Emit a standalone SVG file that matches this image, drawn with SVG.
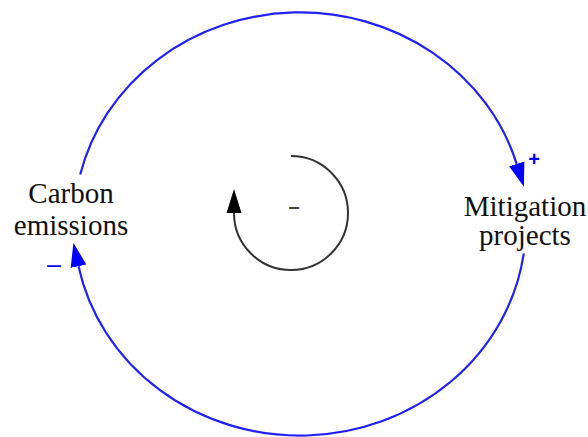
<svg xmlns="http://www.w3.org/2000/svg" width="588" height="437" viewBox="0 0 588 437">
<style>
.lbl{font-family:"Liberation Serif","Times New Roman",serif;font-size:29px;fill:#111;text-anchor:middle}
.sign{font-family:"Liberation Sans",Arial,sans-serif;text-anchor:middle}
.link{fill:none;stroke:#2020ff;stroke-width:2.2}
.loop{fill:none;stroke:#333;stroke-width:2}
</style>
<defs>
<marker id="ab" markerUnits="userSpaceOnUse" markerWidth="30" markerHeight="20" refX="0" refY="8" orient="auto" viewBox="0 0 30 16">
<path d="M0,0 L24,8 L0,16 Z" fill="#0000ff"/>
</marker>
<marker id="ak" markerUnits="userSpaceOnUse" markerWidth="30" markerHeight="20" refX="0" refY="8" orient="auto" viewBox="0 0 30 16">
<path d="M0,0.5 L24,8 L0,15.5 Z" fill="#000"/>
</marker>
</defs>
<g id="connectors">
<path class="link" d="M80.2,174.6 A226,211.5 0 0 1 516.7,163.9" marker-end="url(#ab)"/>
<path class="link" d="M523.8,253.4 A226,211.5 0 0 1 78.5,266.2" marker-end="url(#ab)"/>
<text class="sign" x="534" y="166" font-size="20" font-weight="bold" fill="#0000ff">+</text>
<text class="sign" x="54" y="273" font-size="25" fill="#0000ff">–</text>
</g>
<g id="node-carbon-emissions">
<text class="lbl" x="71" y="203">Carbon</text>
<text class="lbl" x="71" y="235">emissions</text>
</g>
<g id="node-mitigation-projects">
<text class="lbl" x="525" y="216">Mitigation</text>
<text class="lbl" x="525" y="245">projects</text>
</g>
<g id="loop-indicator">
<path class="loop" d="M291,156 A57,57 0 1 1 234,213" marker-end="url(#ak)"/>
<text class="sign" x="294" y="213" font-size="20" font-weight="bold" fill="#444">–</text>
</g>
</svg>
